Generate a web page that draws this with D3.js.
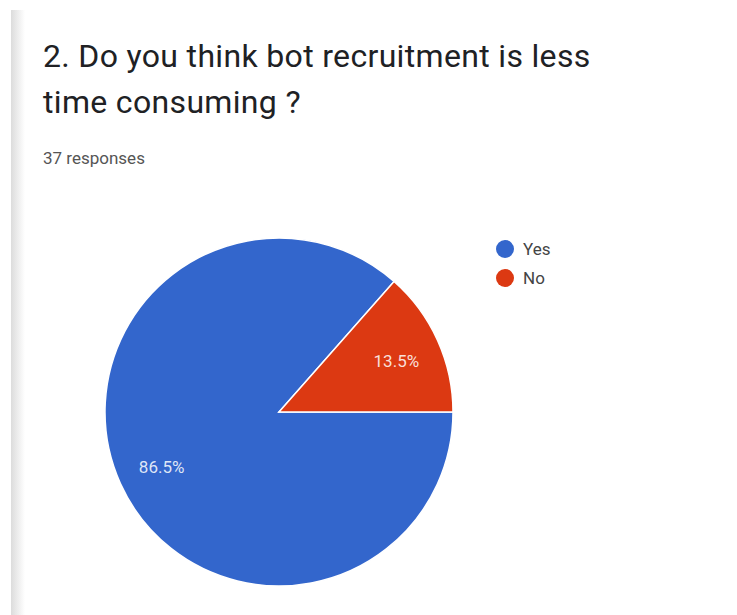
<!DOCTYPE html>
<html>
<head>
<meta charset="utf-8">
<script src="https://cdn.jsdelivr.net/npm/d3@7"></script>
<style>
  html, body { margin: 0; padding: 0; background: #fff; }
  svg { display: block; }
  text { font-family: Roboto, "Noto Sans", sans-serif; }
</style>
</head>
<body>
<div id="chart"></div>
<script>
var titleLines = ["2. Do you think bot recruitment is less", "time consuming ?"];
var subtitle = "37 responses";
var categories = ["Yes", "No"];
var percents = [86.5, 13.5];
var colors = ["#3366cc", "#dc3912"];

var width = 737, height = 615;

var svg = d3.select("#chart")
    .append("svg")
    .attr("width", width)
    .attr("height", height);

// card edge shadow on the left
var grad = svg.append("defs").append("linearGradient")
    .attr("id", "edge")
    .attr("x1", "0%").attr("x2", "100%");
grad.append("stop").attr("offset", "0%").attr("stop-color", "#dcdcdc");
grad.append("stop").attr("offset", "100%").attr("stop-color", "#ffffff");

svg.append("rect")
    .attr("x", 11).attr("y", 10)
    .attr("width", 14).attr("height", height - 10)
    .attr("fill", "url(#edge)");

svg.selectAll(".title")
    .data(titleLines)
    .enter()
    .append("text")
    .attr("class", "title")
    .attr("x", 43)
    .attr("y", function (d, i) { return 67 + i * 46; })
    .attr("font-size", 32)
    .attr("letter-spacing", 0.33)
    .attr("fill", "#202124")
    .text(function (d) { return d; });

svg.append("text")
    .attr("x", 43)
    .attr("y", 164)
    .attr("font-size", 17)
    .attr("fill", "#555")
    .text(subtitle);

var cx = 279, cy = 412, radius = 174;

var pie = d3.pie()
    .sort(null)
    .startAngle(Math.PI / 2)
    .endAngle(Math.PI / 2 + 2 * Math.PI)
    .value(function (d) { return d; });

var arc = d3.arc().innerRadius(0).outerRadius(radius);
var labelArc = d3.arc().innerRadius(radius * 0.74).outerRadius(radius * 0.74);

var g = svg.append("g")
    .attr("transform", "translate(" + [cx, cy] + ")");

var slices = g.selectAll(".slice")
    .data(pie(percents))
    .enter()
    .append("g")
    .attr("class", "slice");

slices.append("path")
    .attr("d", arc)
    .attr("fill", function (d, i) { return colors[i]; })
    .attr("stroke", "#ffffff")
    .attr("stroke-width", 1.5);

slices.append("text")
    .attr("transform", function (d) { return "translate(" + labelArc.centroid(d) + ")"; })
    .attr("text-anchor", "middle")
    .attr("dy", "0.45em")
    .attr("font-size", 17)
    .attr("fill", "#ffffff")
    .attr("fill-opacity", 0.85)
    .text(function (d, i) { return percents[i] + "%"; });

var legend = svg.selectAll(".legend")
    .data(categories)
    .enter()
    .append("g")
    .attr("class", "legend")
    .attr("transform", function (d, i) { return "translate(505," + (249 + i * 29) + ")"; });

legend.append("circle")
    .attr("r", 9)
    .attr("fill", function (d, i) { return colors[i]; });

legend.append("text")
    .attr("x", 18)
    .attr("dy", "0.36em")
    .attr("font-size", 17)
    .attr("fill", "#444")
    .text(function (d) { return d; });
</script>
</body>
</html>
